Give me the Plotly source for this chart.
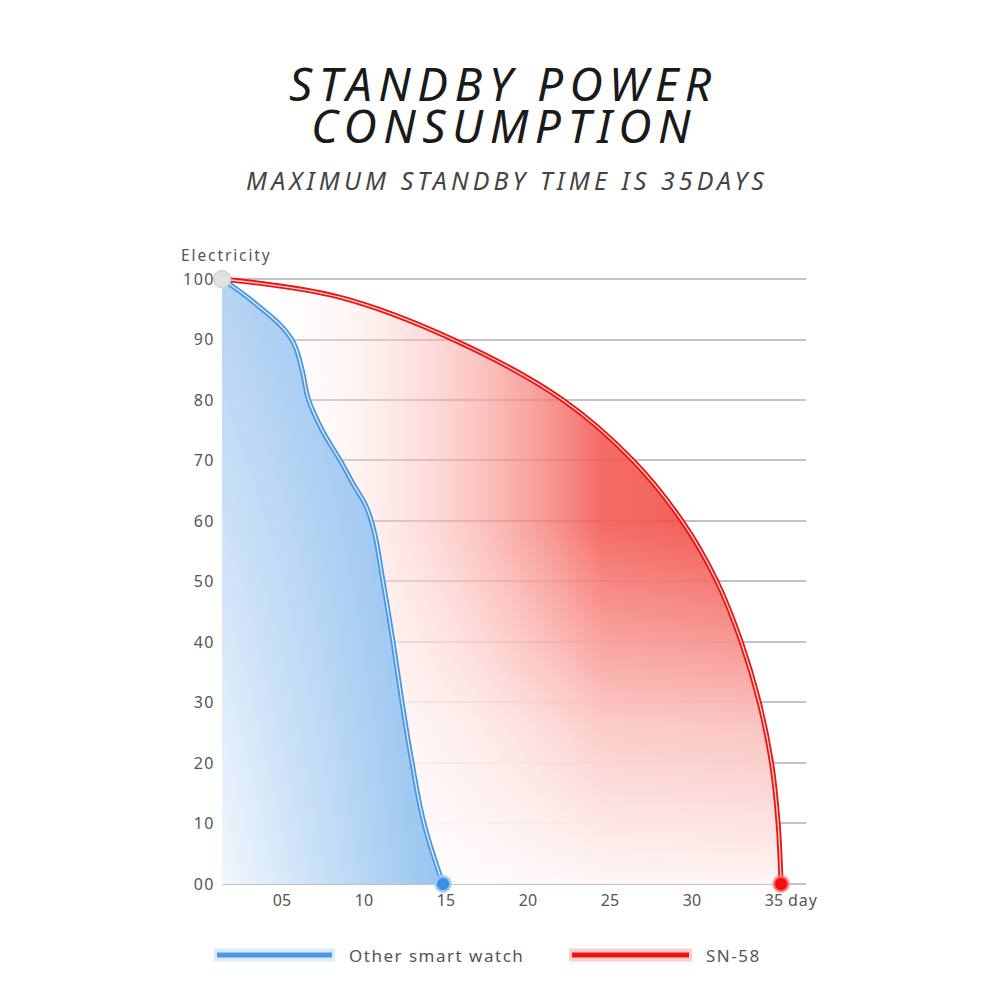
import plotly.graph_objects as go

# ---------------- data ----------------
other_days = [1.34, 3.35, 5.55, 6.22, 6.6, 7.45, 8.55, 9.45, 10.1, 10.6, 11.16, 11.77, 12.32, 12.93, 13.66, 14.82]
other_power = [100, 96, 90.2, 85, 80.2, 75, 70, 65.6, 62.6, 58.5, 50, 40, 30, 20, 10, 0]

sn58_days = [1.34, 8.5, 15.43, 22.13, 26.4, 29.39, 31.52, 33.0, 34.1, 34.85, 35.25, 35.43]
sn58_power = [100, 97, 90, 80, 70, 60, 50, 40, 30, 20, 10, 0]

x_tickvals = [5, 10, 15, 20, 25, 30, 35]
x_ticktext = ["05", "10", "15", "20", "25", "30", "35"]
y_tickvals = [0, 10, 20, 30, 40, 50, 60, 70, 80, 90, 100]
y_ticktext = ["00", "10", "20", "30", "40", "50", "60", "70", "80", "90", "100"]

series_names = ["Other smart watch", "SN-58"]
title_lines = ["STANDBY POWER", "CONSUMPTION"]
subtitle = "MAXIMUM STANDBY TIME IS 35DAYS"
y_label = "Electricity"
x_unit = "day"

# ---------------- styles ----------------
BLUE = "#4a98e3"
RED = "#ec1512"
GRAY_TXT = "#555555"
FONT = "Noto Sans"
H = 992.0  # effective rendered height used for paper mapping


def py(px):
    return 1 - px / H


def sp(text, ls):
    return f'<span style="letter-spacing:{ls}px">{text}</span>'


fig = go.Figure()
red_spline = dict(shape="spline", smoothing=1.0)
blue_spline = dict(shape="spline", smoothing=1.15)

# Red area: horizontal gradient
fig.add_trace(go.Scatter(
    x=sn58_days, y=sn58_power, mode="lines", line=dict(width=0, **red_spline),
    fill="tozeroy",
    fillgradient=dict(type="horizontal", start=sn58_days[0], stop=sn58_days[-1],
                      colorscale=[[0, "rgba(255,255,255,0)"], [0.2, "rgba(255,232,230,0.3)"],
                                  [0.45, "rgba(250,165,160,0.62)"], [0.68, "rgba(243,88,80,0.88)"],
                                  [1, "rgba(240,70,64,0.92)"]]),
    hoverinfo="skip", showlegend=False))
# Red area: white fade toward the bottom
fig.add_trace(go.Scatter(
    x=sn58_days, y=sn58_power, mode="lines", line=dict(width=0, **red_spline),
    fill="tozeroy",
    fillgradient=dict(type="vertical", start=0, stop=60,
                      colorscale=[[0, "rgba(255,255,255,0.95)"], [0.45, "rgba(255,255,255,0.65)"],
                                  [1, "rgba(255,255,255,0)"]]),
    hoverinfo="skip", showlegend=False))

# Blue area: horizontal gradient (opaque)
fig.add_trace(go.Scatter(
    x=other_days, y=other_power, mode="lines", line=dict(width=0, **blue_spline),
    fill="tozeroy",
    fillgradient=dict(type="horizontal", start=other_days[0], stop=other_days[-1],
                      colorscale=[[0, "rgb(242,247,253)"], [1, "rgb(150,196,240)"]]),
    hoverinfo="skip", showlegend=False))
# Blue area: stronger toward the top
fig.add_trace(go.Scatter(
    x=other_days, y=other_power, mode="lines", line=dict(width=0, **blue_spline),
    fill="tozeroy",
    fillgradient=dict(type="vertical", start=0, stop=100,
                      colorscale=[[0, "rgba(120,175,235,0)"], [1, "rgba(120,175,235,0.5)"]]),
    hoverinfo="skip", showlegend=False))

# Lines (double stroke look)
for xs, ys, col, inner, shp in [(other_days, other_power, BLUE, "rgba(235,245,255,0.95)", blue_spline),
                                (sn58_days, sn58_power, RED, "rgba(255,225,225,0.95)", red_spline)]:
    fig.add_trace(go.Scatter(x=xs, y=ys, mode="lines", line=dict(color=col, width=5, **shp),
                             hoverinfo="skip", showlegend=False))
    fig.add_trace(go.Scatter(x=xs, y=ys, mode="lines", line=dict(color=inner, width=1.3, **shp),
                             hoverinfo="skip", showlegend=False))

# End / start dots
fig.add_trace(go.Scatter(x=[other_days[-1]], y=[other_power[-1]], mode="markers", cliponaxis=False,
                         marker=dict(size=15, color="#3a8de2", line=dict(width=3, color="rgba(160,205,248,0.8)")),
                         hoverinfo="skip", showlegend=False))
fig.add_trace(go.Scatter(x=[sn58_days[-1]], y=[sn58_power[-1]], mode="markers", cliponaxis=False,
                         marker=dict(size=15, color="#f01010", line=dict(width=3, color="rgba(255,130,130,0.7)")),
                         hoverinfo="skip", showlegend=False))
fig.add_trace(go.Scatter(x=[sn58_days[0]], y=[sn58_power[0]], mode="markers", cliponaxis=False,
                         marker=dict(size=17, color="#e2e2e2", line=dict(width=1.5, color="#d2d2d2")),
                         hoverinfo="skip", showlegend=False))

# ---------------- axes ----------------
fig.update_xaxes(domain=[0.222, 0.806], range=[1.34, 36.95], showgrid=False, zeroline=False,
                 showline=False, tickvals=x_tickvals, ticktext=x_ticktext, ticks="",
                 tickfont=dict(family=FONT, size=16, color=GRAY_TXT), ticklabelstandoff=2)
fig.update_yaxes(domain=[py(887.0), py(260.85)], range=[-0.5, 103], showgrid=True, gridcolor="#c3c3c3",
                 gridwidth=2, zeroline=False, showline=False, tickvals=y_tickvals,
                 ticktext=[sp(t, 1.5) for t in y_ticktext],
                 ticks="", tickfont=dict(family=FONT, size=16, color=GRAY_TXT), ticklabelstandoff=6)

# ---------------- texts ----------------
annotations = [
    dict(text=sp(title_lines[0], 6.5), x=0.503, y=py(83), font=dict(family=FONT, size=46, color="#1a1a1a", style="italic")),
    dict(text=sp(title_lines[1], 6.5), x=0.504, y=py(125), font=dict(family=FONT, size=46, color="#1a1a1a", style="italic")),
    dict(text=sp(subtitle, 4.1), x=0.507, y=py(180), font=dict(family=FONT, size=25, color="#444444", style="italic")),
    dict(text=sp(y_label, 1.9), x=0.179, y=py(255), xanchor="left", font=dict(family=FONT, size=15.5, color=GRAY_TXT)),
    dict(text=sp(x_unit, 1), x=0.786, y=py(900), xanchor="left", font=dict(family=FONT, size=16, color=GRAY_TXT)),
    dict(text=sp(series_names[0], 1.5), x=0.347, y=py(955), xanchor="left", font=dict(family=FONT, size=17, color=GRAY_TXT)),
    dict(text=sp(series_names[1], 1.5), x=0.704, y=py(955), xanchor="left", font=dict(family=FONT, size=17, color=GRAY_TXT)),
]
for a in annotations:
    a.update(xref="paper", yref="paper", showarrow=False)
    a.setdefault("xanchor", "center")
    a.setdefault("yanchor", "middle")

# legend swatches
shapes = []
for x0, x1, col, glow in [(0.217, 0.332, BLUE, "rgba(69,150,226,0.18)"),
                          (0.572, 0.689, RED, "rgba(240,30,25,0.22)")]:
    shapes.append(dict(type="line", xref="paper", yref="paper", x0=x0 - 0.003, x1=x1 + 0.003,
                       y0=py(955), y1=py(955), line=dict(color=glow, width=13)))
    shapes.append(dict(type="line", xref="paper", yref="paper", x0=x0, x1=x1,
                       y0=py(955), y1=py(955), line=dict(color=col, width=5)))

fig.update_layout(width=1000, height=1000, margin=dict(l=0, r=0, t=0, b=0),
                  paper_bgcolor="white", plot_bgcolor="white",
                  annotations=annotations, shapes=shapes, showlegend=False)

fig.write_html("out.html")
